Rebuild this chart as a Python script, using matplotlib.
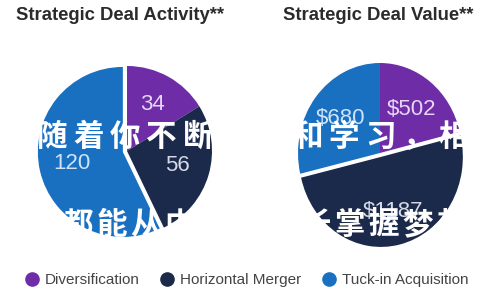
import matplotlib
matplotlib.use("Agg")
import matplotlib.pyplot as plt
from matplotlib.lines import Line2D

categories = ["Diversification", "Horizontal Merger", "Tuck-in Acquisition"]
colors = ["#6E2DA6", "#1B2A4A", "#1A70C0"]
label_colors = ["#E6D6F4", "#D5DAE6", "#CFE4F8"]

activity_values = [34, 56, 120]
activity_labels = ["34", "56", "120"]
value_values = [502, 1187, 680]
value_labels = ["$502", "$1187", "$680"]

titles = ["Strategic Deal Activity**", "Strategic Deal Value**"]

overlay_line1 = "随着你不断努力和学习，相"
overlay_line2 = "都能从中获得成长掌握梦想"

plt.rcParams['font.family'] = ['Liberation Sans', 'DejaVu Sans']

W, H, DPI = 500, 300, 100
fig = plt.figure(figsize=(W / DPI, H / DPI), dpi=DPI)
fig.patch.set_facecolor("white")


def pie_axes(cx, cy, rx, ry, half=115):
    # cx, cy in pixels from top-left; rx, ry radii in pixels
    ax = fig.add_axes([(cx - half) / W, (H - cy - half) / H, 2 * half / W, 2 * half / H])
    ax.axis("off")
    return ax, half / rx, half / ry


def draw(axinfo, values, labels, explode):
    ax, limx, limy = axinfo
    wedges, _, autotexts = ax.pie(
        values, colors=colors, startangle=90, counterclock=False,
        explode=explode, radius=1, autopct="%1.0f", pctdistance=0.62,
        wedgeprops=dict(linewidth=0), textprops=dict(fontsize=16))
    for t, lab, c in zip(autotexts, labels, label_colors):
        t.set_text(lab)
        t.set_color(c)
    ax.set_aspect("auto")
    ax.set_xlim(-limx, limx)
    ax.set_ylim(-limy, limy)


draw(pie_axes(127, 151, 85, 85), activity_values, activity_labels, [0, 0, 0.05])
draw(pie_axes(380, 153, 82, 90), value_values, value_labels, [0, 0.045, 0])

fig.text(120 / W, 1 - 16 / H, titles[0], ha="center", va="center",
         fontsize=13.3, fontweight="bold", color="#2B2B2B")
fig.text(378 / W, 1 - 16 / H, titles[1], ha="center", va="center",
         fontsize=13.3, fontweight="bold", color="#2B2B2B")

# white overlay text
cjk = ['Noto Sans CJK SC', 'DejaVu Sans']
for i, ch in enumerate(overlay_line1):
    fig.text((52 + i * 36.5) / W, 1 - 137 / H, ch, ha="center", va="center",
             fontsize=22, fontweight="bold", color="white", family=cjk, zorder=10)
for i, ch in enumerate(overlay_line2):
    fig.text((78 + i * 34) / W, 1 - 225 / H, ch, ha="center", va="center",
             fontsize=22, fontweight="bold", color="white", family=cjk, zorder=10)

handles = [Line2D([0], [0], marker="o", linestyle="", markersize=9.5,
                  markerfacecolor=c, markeredgecolor=c) for c in colors]
fig.legend(handles, categories, loc="center", bbox_to_anchor=(246 / W, 1 - 280 / H),
           ncol=3, frameon=False, fontsize=11, handletextpad=0.35,
           columnspacing=1.3, handlelength=1.0, labelcolor="#444444")

fig.savefig("out.png", dpi=DPI, facecolor="white")
